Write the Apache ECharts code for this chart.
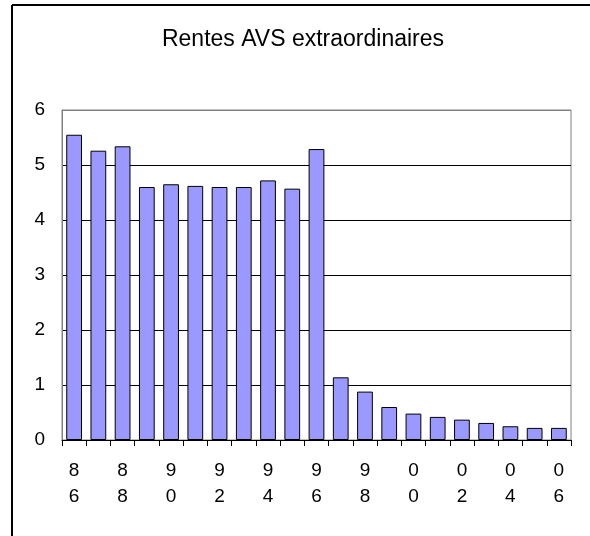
<!DOCTYPE html>
<html>
<head>
<meta charset="utf-8">
<script src="https://cdn.jsdelivr.net/npm/echarts@6/dist/echarts.min.js"></script>
<style>
html,body{margin:0;padding:0;background:#fff;}
#chart{width:590px;height:536px;}
</style>
</head>
<body>
<div id="chart"></div>
<script>
var title = 'Rentes AVS extraordinaires';
var years = ['86','87','88','89','90','91','92','93','94','95','96','97','98','99','00','01','02','03','04','05','06'];
var values = [5.55, 5.26, 5.34, 4.60, 4.65, 4.62, 4.60, 4.60, 4.72, 4.57, 5.29, 1.14, 0.88, 0.60, 0.48, 0.42, 0.37, 0.31, 0.25, 0.22, 0.22];
var yTicks = [0, 1, 2, 3, 4, 5, 6];

var chart = echarts.init(document.getElementById('chart'), null, {renderer: 'canvas'});
var font = 'Liberation Sans, Arial, sans-serif';
chart.setOption({
  animation: false,
  backgroundColor: '#fff',
  title: {
    text: title,
    left: 298,
    top: 23,
    textAlign: 'center',
    textStyle: {fontFamily: font, fontSize: 23, fontWeight: 'normal', color: '#000'}
  },
  grid: {
    left: 62, right: 19, top: 110, bottom: 96,
    show: true, borderColor: '#808080', borderWidth: 1
  },
  xAxis: {
    type: 'category',
    data: years,
    boundaryGap: true,
    axisLine: {lineStyle: {color: '#000', width: 1}},
    axisTick: {show: true, inside: false, length: 6, interval: 0, alignWithLabel: false, lineStyle: {color: '#000'}},
    axisLabel: {
      interval: 1,
      margin: 18,
      fontFamily: font, fontSize: 19, color: '#000', lineHeight: 26,
      formatter: function (v) { return v.split('').join('\n'); }
    },
    splitLine: {show: false}
  },
  yAxis: {
    type: 'value',
    min: yTicks[0],
    max: yTicks[yTicks.length - 1],
    interval: 1,
    axisLine: {show: true, lineStyle: {color: '#808080'}},
    axisTick: {show: false},
    axisLabel: {margin: 17, fontFamily: font, fontSize: 19, color: '#000'},
    splitLine: {show: true, lineStyle: {color: ['#808080','#000','#000','#000','#000','#000','#808080'], width: 1}}
  },
  series: [{
    type: 'bar',
    data: values,
    barCategoryGap: '35%',
    itemStyle: {color: '#9999ff', borderColor: '#000', borderWidth: 1}
  }],
  graphic: [
    {type: 'line', shape: {x1: 12, y1: 5, x2: 12, y2: 536}, style: {stroke: '#000', lineWidth: 2}},
    {type: 'line', shape: {x1: 12, y1: 5, x2: 590, y2: 5}, style: {stroke: '#000', lineWidth: 2}}
  ]
});
</script>
</body>
</html>
